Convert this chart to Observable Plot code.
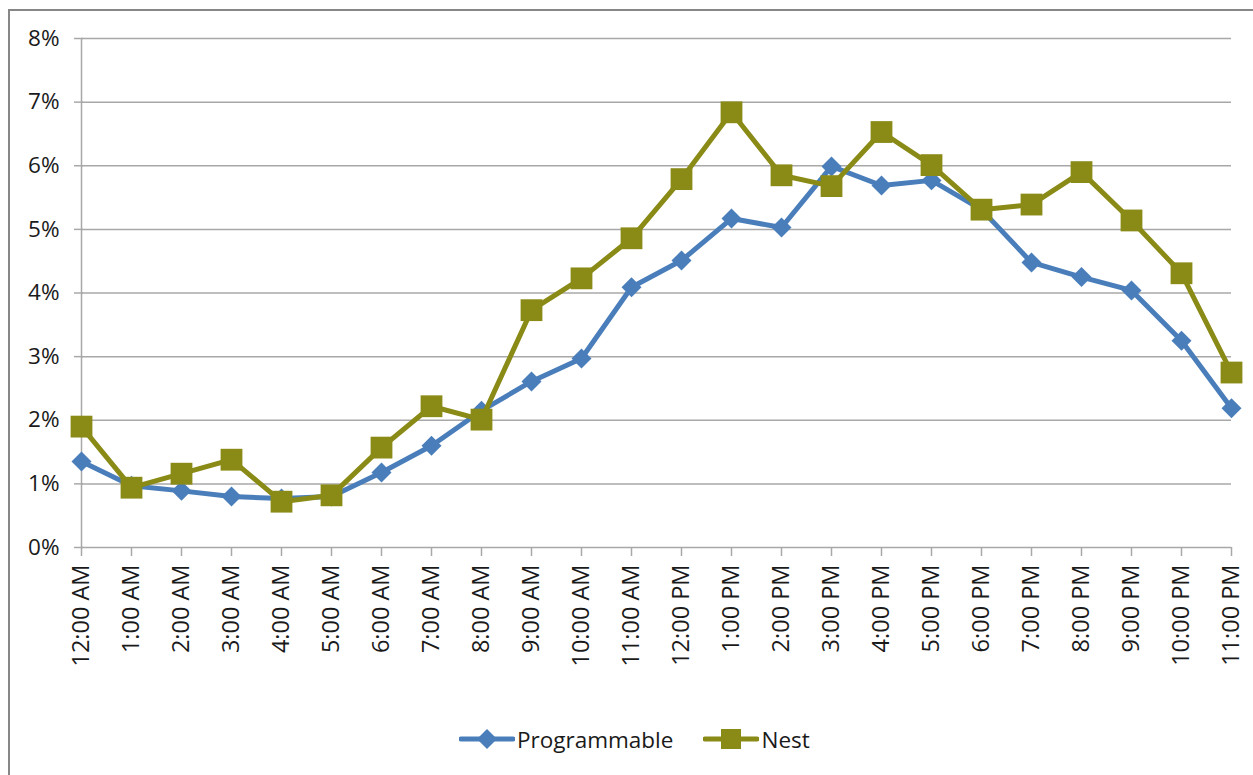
<!DOCTYPE html>
<html>
<head>
<meta charset="utf-8">
<script src="https://cdn.jsdelivr.net/npm/d3@7"></script>
<script src="https://cdn.jsdelivr.net/npm/@observablehq/plot@0.6"></script>
<style>
  html, body { margin: 0; padding: 0; background: #fff; overflow: hidden; }
  #wrap { position: relative; width: 1253px; height: 775px; font-family: "Open Sans", sans-serif; color: #1a1a1a; }
  #frame { position: absolute; left: 8px; top: 9px; width: 1300px; height: 820px; border: 2px solid #878787; box-sizing: border-box; pointer-events: none; }
  #chart { position: absolute; left: 0; top: 0; }
  #legend { position: absolute; left: 459px; top: 722px; height: 34px; display: flex; align-items: center; font-size: 22.5px; white-space: nowrap; }
  #legend .item { display: flex; align-items: center; }
  #legend svg { display: block; }
</style>
</head>
<body>
<div id="wrap">
  <div id="chart"></div>
  <div id="frame"></div>
  <div id="legend"></div>
</div>
<script>
// Hour-of-day categories
const hours = [
  "12:00 AM", "1:00 AM", "2:00 AM", "3:00 AM", "4:00 AM", "5:00 AM",
  "6:00 AM", "7:00 AM", "8:00 AM", "9:00 AM", "10:00 AM", "11:00 AM",
  "12:00 PM", "1:00 PM", "2:00 PM", "3:00 PM", "4:00 PM", "5:00 PM",
  "6:00 PM", "7:00 PM", "8:00 PM", "9:00 PM", "10:00 PM", "11:00 PM"
];

// Share of activity per hour, in percent
const programmable = [
  1.35, 0.97, 0.89, 0.80, 0.77, 0.80,
  1.18, 1.60, 2.15, 2.61, 2.97, 4.09,
  4.51, 5.17, 5.03, 5.99, 5.69, 5.77,
  5.31, 4.48, 4.25, 4.04, 3.25, 2.19
];
const nest = [
  1.90, 0.94, 1.16, 1.38, 0.72, 0.82,
  1.57, 2.22, 2.01, 3.73, 4.23, 4.86,
  5.79, 6.84, 5.85, 5.68, 6.53, 6.01,
  5.31, 5.39, 5.90, 5.14, 4.31, 2.75
];

// Y axis ticks
const yTicks = [0, 1, 2, 3, 4, 5, 6, 7, 8];

const seriesNames = ["Programmable", "Nest"];
const seriesColors = ["#4a7ebb", "#8a8a17"];

const progRows = hours.map((h, i) => ({hour: h, value: programmable[i]}));
const nestRows = hours.map((h, i) => ({hour: h, value: nest[i]}));

const gridColor = "#a8a8a8";
const firstHour = hours[0];
const lastHour = hours[hours.length - 1];

// The point scale here is laid out 9px inside its range on each side,
// so the range is widened by that amount to put the end points at 83 and 1228.
const chart = Plot.plot({
  width: 1253,
  height: 700,
  marginTop: 38,
  marginBottom: 153,
  marginLeft: 83,
  marginRight: 25,
  style: {fontFamily: "Open Sans, sans-serif", fontSize: "22.5px", background: "transparent", color: "#1a1a1a", overflow: "visible"},
  x: {type: "point", domain: hours, range: [74, 1237], padding: 0},
  y: {domain: [0, 8], range: [547, 38]},
  marks: [
    Plot.ruleY(yTicks, {x1: () => firstHour, x2: () => lastHour, stroke: gridColor, strokeWidth: 1.5}),
    Plot.ruleX([firstHour], {y1: 0, y2: 8, stroke: gridColor, strokeWidth: 1.5}),
    Plot.axisY({ticks: yTicks, tickFormat: d => d + "%", tickSize: 9, tickPadding: 15, stroke: gridColor, strokeWidth: 1.5, strokeOpacity: 1, label: null, fill: "#1a1a1a"}),
    Plot.axisX({tickSize: 9, tickPadding: 8, tickRotate: -90, stroke: gridColor, strokeWidth: 1.5, strokeOpacity: 1, label: null, fill: "#1a1a1a", fontSize: 23.5}),
    Plot.line(progRows, {x: "hour", y: "value", stroke: seriesColors[0], strokeWidth: 5, strokeLinejoin: "round"}),
    Plot.dot(progRows, {x: "hour", y: "value", symbol: "diamond2", r: 9, fill: seriesColors[0], stroke: "none"}),
    Plot.line(nestRows, {x: "hour", y: "value", stroke: seriesColors[1], strokeWidth: 5, strokeLinejoin: "round"}),
    Plot.dot(nestRows, {x: "hour", y: "value", symbol: "square", r: 12.3, fill: seriesColors[1], stroke: "none"})
  ]
});
document.getElementById("chart").appendChild(chart);

// Legend: line swatch with marker, then series name
const legend = d3.select("#legend");
seriesNames.forEach((name, i) => {
  const item = legend.append("div").attr("class", "item").style("margin-right", i === 0 ? "30px" : "0");
  const sw = item.append("svg").attr("width", 56).attr("height", 30);
  sw.append("line").attr("x1", 2).attr("x2", 54).attr("y1", 15).attr("y2", 15)
    .attr("stroke", seriesColors[i]).attr("stroke-width", 5).attr("stroke-linecap", "round");
  if (i === 0) {
    sw.append("path").attr("d", d3.symbol(d3.symbolDiamond2, 255)()).attr("transform", "translate(28,15)").attr("fill", seriesColors[i]);
  } else {
    sw.append("rect").attr("x", 18).attr("y", 5).attr("width", 20).attr("height", 20).attr("fill", seriesColors[i]);
  }
  item.append("span").style("margin-left", "2px").text(name);
});
</script>
</body>
</html>
